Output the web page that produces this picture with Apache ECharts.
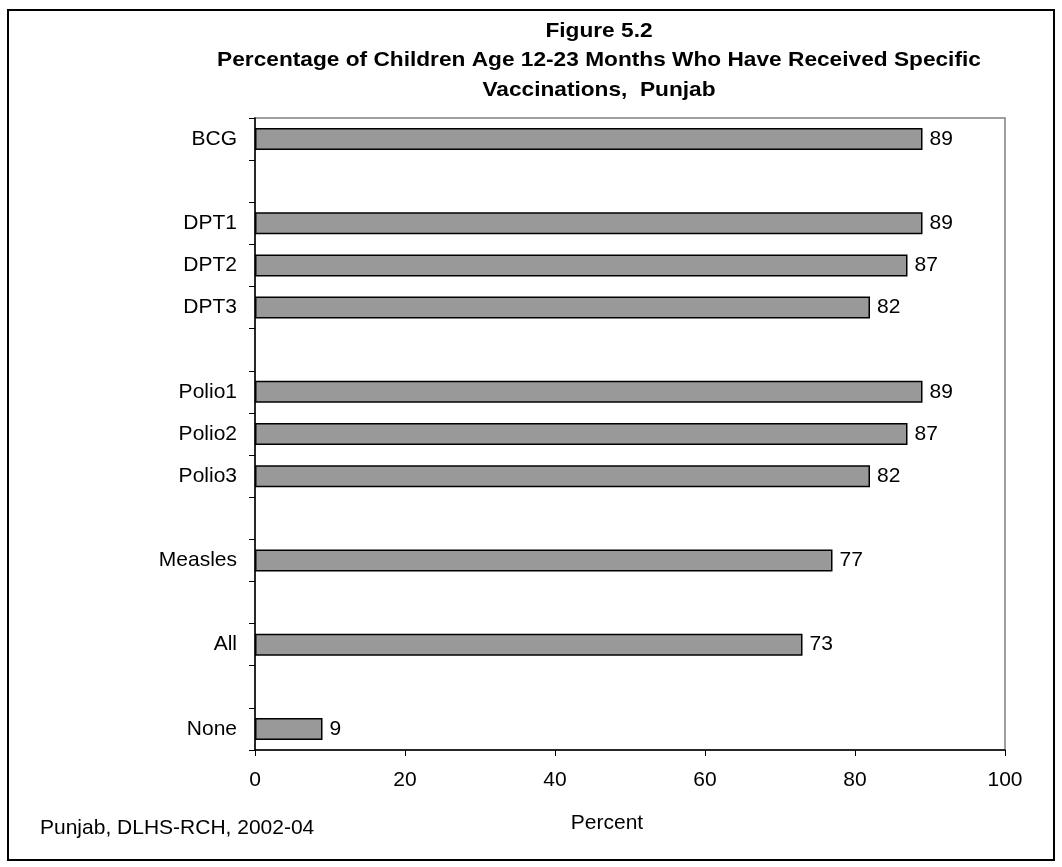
<!DOCTYPE html>
<html>
<head>
<meta charset="utf-8">
<script src="https://cdn.jsdelivr.net/npm/echarts@6/dist/echarts.min.js"></script>
<style>
  html, body { margin: 0; padding: 0; background: #fff; }
  #chart { width: 1062px; height: 867px; }
</style>
</head>
<body>
<div id="chart"></div>
<script>
// Vaccination categories (blank entries are spacer rows between groups)
const categories = ['BCG', '', 'DPT1', 'DPT2', 'DPT3', '', 'Polio1', 'Polio2', 'Polio3', '', 'Measles', '', 'All', '', 'None'];
// Percent of children 12-23 months vaccinated
const percentValues = [89, null, 89, 87, 82, null, 89, 87, 82, null, 77, null, 73, null, 9];
const xTicks = [0, 20, 40, 60, 80, 100];

const titleLines = [
  'Figure 5.2',
  'Percentage of Children Age 12-23 Months Who Have Received Specific',
  'Vaccinations,  Punjab'
];
const sourceNote = 'Punjab, DLHS-RCH, 2002-04';
const axisName = 'Percent';

const font = 'Liberation Sans, Arial, sans-serif';
const chart = echarts.init(document.getElementById('chart'), null, { renderer: 'canvas' });

// Title block: bold, slightly widened lettering, centred over the chart
const titleY = [31, 60, 90];
const titleGraphics = titleLines.map((t, i) => ({
  type: 'text',
  x: 599, y: titleY[i],
  scaleX: 1.08,
  style: {
    text: t, font: 'bold 21px ' + font, fill: '#000',
    align: 'center', verticalAlign: 'middle'
  }
}));

chart.setOption({
  animation: false,
  backgroundColor: '#fff',
  grid: { left: 255, top: 118, right: 57, bottom: 117, show: true, borderColor: '#808080', borderWidth: 1.5, containLabel: false },
  xAxis: {
    type: 'value', min: xTicks[0], max: xTicks[xTicks.length - 1], interval: 20,
    axisLine: { show: true, lineStyle: { color: '#000', width: 1.5 } },
    axisTick: { show: true, inside: false, length: 6, lineStyle: { color: '#000' } },
    axisLabel: { color: '#000', fontSize: 21, fontFamily: font, margin: 20 },
    splitLine: { show: false }
  },
  yAxis: {
    type: 'category', data: categories, inverse: true,
    axisLine: { show: true, lineStyle: { color: '#000', width: 1.5 } },
    axisTick: { show: true, length: 6, alignWithLabel: false, interval: 0, lineStyle: { color: '#000' } },
    axisLabel: { color: '#000', fontSize: 21, fontFamily: font, margin: 18, interval: 0 }
  },
  series: [{
    type: 'bar',
    data: percentValues,
    barWidth: 22,
    itemStyle: { color: '#999999', borderColor: '#000', borderWidth: 1.5 },
    label: { show: true, position: 'right', distance: 7, color: '#000', fontSize: 21, fontFamily: font }
  }],
  graphic: [
    { type: 'rect', shape: { x: 8, y: 10, width: 1046, height: 850 }, style: { fill: 'none', stroke: '#000', lineWidth: 2 } },
    ...titleGraphics,
    { type: 'text', x: 607, y: 823, style: { text: axisName, font: '21px ' + font, fill: '#000', align: 'center', verticalAlign: 'middle' } },
    { type: 'text', x: 40, y: 828, style: { text: sourceNote, font: '21px ' + font, fill: '#000', align: 'left', verticalAlign: 'middle' } }
  ]
});
</script>
</body>
</html>
